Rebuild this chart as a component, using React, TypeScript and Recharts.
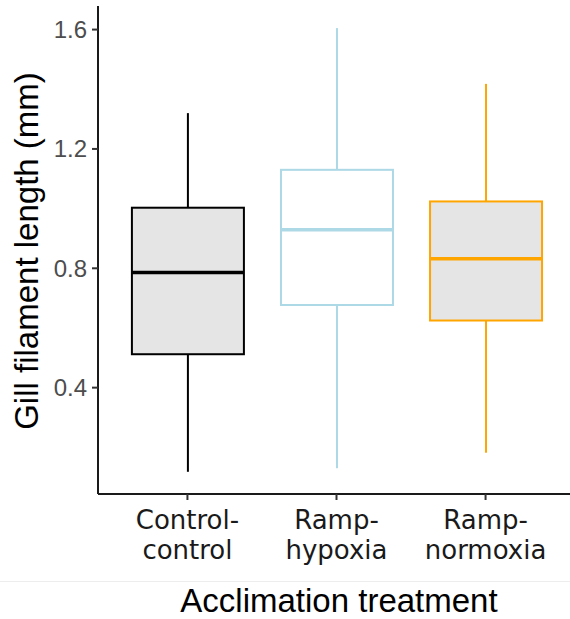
import { ComposedChart, Bar, XAxis, YAxis } from "recharts"

// five-number summaries per treatment (mm)
const categories = ["Control-control", "Ramp-hypoxia", "Ramp-normoxia"]
const tickLines = [
  ["Control-", "control"],
  ["Ramp-", "hypoxia"],
  ["Ramp-", "normoxia"],
]
const lows = [0.118, 0.13, 0.182]
const q1s = [0.512, 0.677, 0.625]
const medians = [0.786, 0.929, 0.832]
const q3s = [1.003, 1.13, 1.024]
const highs = [1.32, 1.605, 1.418]
const yTicks = [0.4, 0.8, 1.2, 1.6]

const STROKES = ["#000000", "#add8e6", "#ffa500"]
const FILLS = ["#e5e5e5", "#ffffff", "#e5e5e5"]

const rows = categories.map((name, i) => ({
  pos: i + 1,
  name,
  range: [lows[i], highs[i]],
  q1: q1s[i],
  median: medians[i],
  q3: q3s[i],
}))

function BoxShape(props: any) {
  const { x, y, width, height, payload, index } = props
  const [lo, hi] = payload.range
  const toPx = (v: number) => y + ((hi - v) / (hi - lo)) * height
  const cx = x + width / 2
  const stroke = STROKES[index % STROKES.length]
  const fill = FILLS[index % FILLS.length]
  const top = toPx(payload.q3)
  const bottom = toPx(payload.q1)
  const mid = toPx(payload.median)
  return (
    <g>
      <line x1={cx} x2={cx} y1={toPx(hi)} y2={top} stroke={stroke} strokeWidth={2} />
      <line x1={cx} x2={cx} y1={bottom} y2={toPx(lo)} stroke={stroke} strokeWidth={2} />
      <rect x={x} y={top} width={width} height={bottom - top} fill={fill} stroke={stroke} strokeWidth={2} />
      <line x1={x} x2={x + width} y1={mid} y2={mid} stroke={stroke} strokeWidth={3.5} />
    </g>
  )
}

function CategoryTick({ x, y, payload }: any) {
  const lines = tickLines[payload.value - 1] ?? []
  return (
    <text
      x={x}
      y={y}
      textAnchor="middle"
      fill="#1a1a1a"
      fontSize={26}
      fontFamily="'DejaVu Sans', sans-serif"
    >
      {lines.map((t, i) => (
        <tspan key={i} x={x} y={y + 27 + i * 30}>
          {t}
        </tspan>
      ))}
    </text>
  )
}

export default function App() {
  return (
    <div
      style={{
        position: "fixed",
        left: 0,
        top: 0,
        width: 570,
        height: 619,
        overflow: "hidden",
        background: "#fff",
      }}
    >
      <ComposedChart
        width={580}
        height={619}
        data={rows}
        margin={{ top: 6, right: 5, bottom: 45, left: 0 }}
      >
        <XAxis
          type="number"
          dataKey="pos"
          domain={[0.4, 3.6]}
          ticks={[1, 2, 3]}
          allowDataOverflow
          height={80}
          tickSize={6}
          axisLine={{ stroke: "#1a1a1a", strokeWidth: 2 }}
          tickLine={{ stroke: "#333", strokeWidth: 2 }}
          tick={<CategoryTick />}
          interval={0}
        />
        <YAxis
          type="number"
          domain={[0.0436, 1.679]}
          ticks={yTicks}
          allowDataOverflow
          width={98}
          tickSize={6}
          tickMargin={5}
          tickFormatter={(v: number) => v.toFixed(1)}
          axisLine={{ stroke: "#1a1a1a", strokeWidth: 2 }}
          tickLine={{ stroke: "#333", strokeWidth: 2 }}
          tick={{ fill: "#4d4d4d", fontSize: 24, fontFamily: "'Liberation Sans', Arial, sans-serif" }}
        />
        <Bar dataKey="range" barSize={112} shape={BoxShape} isAnimationActive={false} />
      </ComposedChart>

      {/* axis titles and the thin rule above the x title */}
      <svg
        width={570}
        height={619}
        style={{ position: "absolute", left: 0, top: 0, pointerEvents: "none" }}
      >
        <line x1={0} x2={570} y1={581.5} y2={581.5} stroke="#ededed" strokeWidth={1} />
        <text
          transform="rotate(-90)"
          x={-251}
          y={38}
          textAnchor="middle"
          fontSize={33}
          fill="#000"
          fontFamily="'Liberation Sans', Arial, sans-serif"
        >
          Gill filament length (mm)
        </text>
        <text
          x={339}
          y={612}
          textAnchor="middle"
          fontSize={33}
          fill="#000"
          fontFamily="'Liberation Sans', Arial, sans-serif"
        >
          Acclimation treatment
        </text>
      </svg>
    </div>
  )
}
